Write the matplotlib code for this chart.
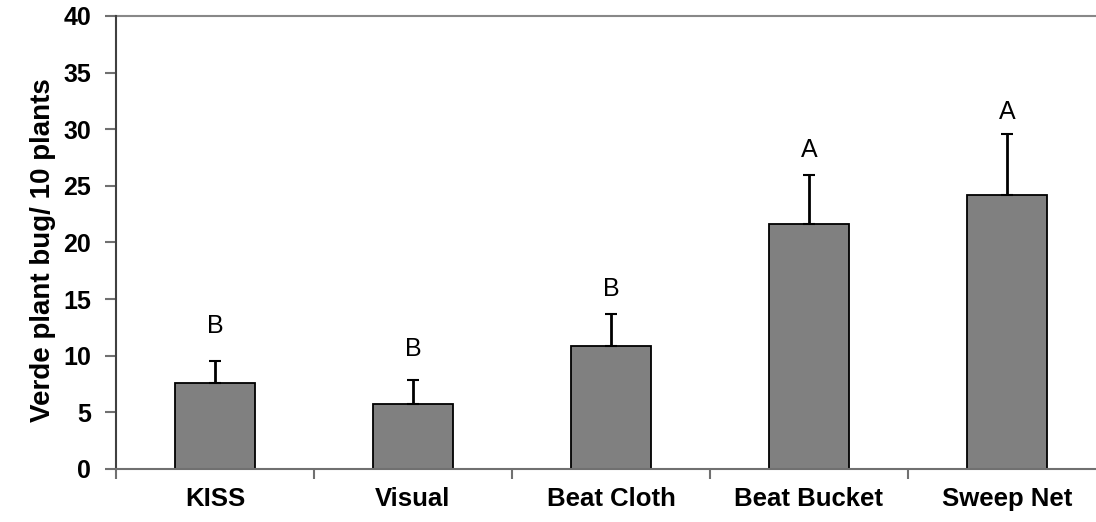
import matplotlib
matplotlib.use("Agg")
import matplotlib.pyplot as plt
import numpy as np

categories = ["KISS", "Visual", "Beat Cloth", "Beat Bucket", "Sweep Net"]
means = [7.57, 5.74, 10.86, 21.66, 24.2]
errors = [1.97, 2.12, 2.8, 4.3, 5.35]
letters = ["B", "B", "B", "A", "A"]
letter_y = [12.6, 10.6, 15.9, 28.2, 31.5]
yticks = [0, 5, 10, 15, 20, 25, 30, 35, 40]

plt.rcParams['font.family'] = ['Liberation Sans', 'DejaVu Sans']

fig = plt.figure(figsize=(10.96, 5.22), dpi=100)
ax = fig.add_axes([116/1096, 1 - 469/522, 990/1096, 453/522])

x = np.arange(len(categories))
ax.bar(x, means, width=0.4, color="#808080", edgecolor="black", linewidth=1.3, zorder=2)
ax.errorbar(x, means, yerr=[np.zeros(len(errors)), errors], fmt="none",
            ecolor="black", elinewidth=2, capsize=4, capthick=1.5, zorder=3)
for xi, lab, ly in zip(x, letters, letter_y):
    ax.text(xi, ly, lab, ha="center", va="center", fontsize=18, color="black")

ax.set_xlim(-0.5, 4.5)
ax.set_ylim(0, 40)
ax.set_yticks(yticks)
ax.set_yticklabels([str(t) for t in yticks], fontsize=18, fontweight="bold")
ax.axhline(40, color="#888888", linewidth=1.5, zorder=1, clip_on=False)

ax.set_xticks(np.arange(-0.5, 4.6, 1.0))
ax.set_xticklabels([])
ax.set_xticks(x, minor=True)
ax.set_xticklabels(categories, minor=True, fontsize=18.5, fontweight="bold")
ax.tick_params(axis="x", which="major", direction="out", length=7, width=1.5, color="#707070")
ax.tick_params(axis="x", which="minor", length=0, pad=13)
ax.tick_params(axis="y", direction="out", length=8, width=1.5, color="#707070", pad=10)

for s in ["top", "right"]:
    ax.spines[s].set_visible(False)
ax.spines["left"].set_color("#404040")
ax.spines["left"].set_linewidth(1.5)
ax.spines["bottom"].set_color("#707070")
ax.spines["bottom"].set_linewidth(1.5)

ax.set_ylabel("Verde plant bug/ 10 plants", fontsize=20, fontweight="bold")
ax.yaxis.set_label_coords(-60/990, 0.483)

fig.savefig("out.png", dpi=100)
